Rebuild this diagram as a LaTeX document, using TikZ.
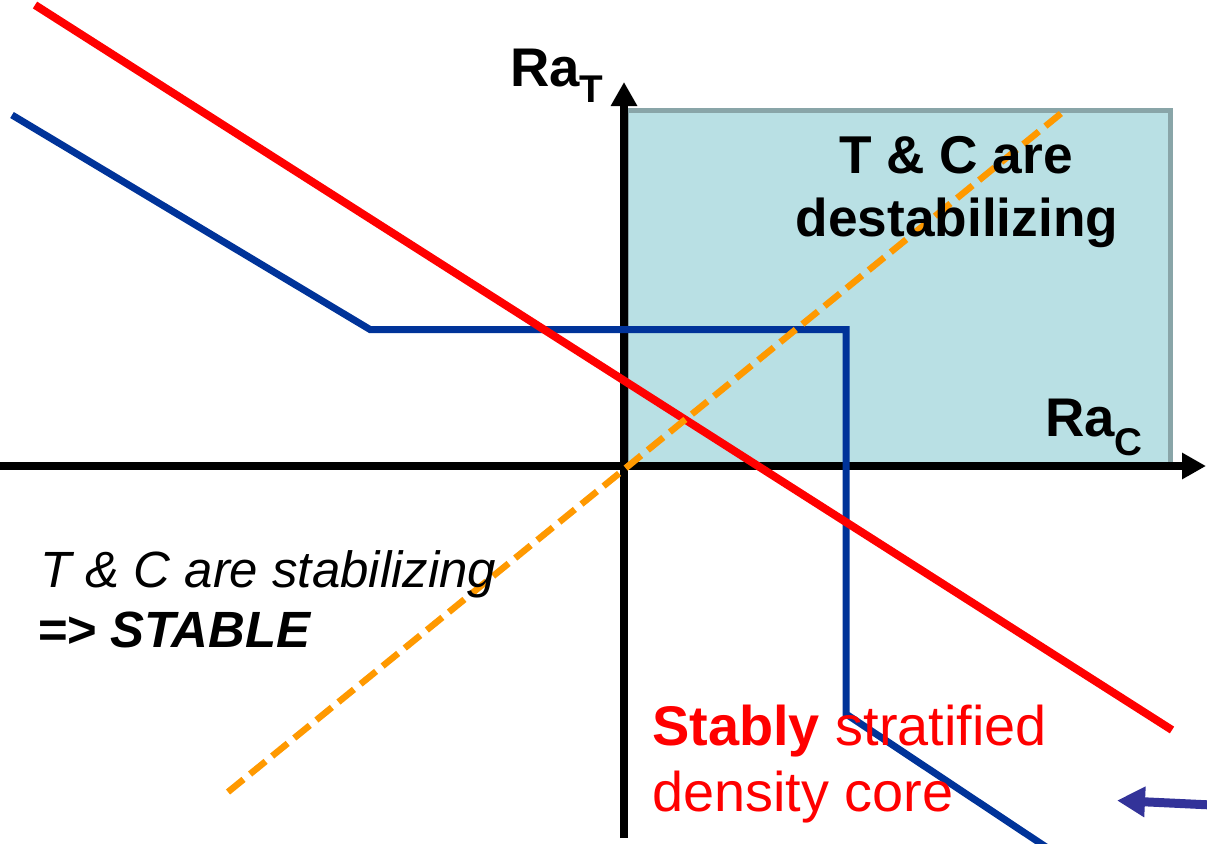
\documentclass[tikz,border=0pt]{standalone}
\usepackage{fontspec}
\setmainfont{Liberation Sans}
\usetikzlibrary{arrows.meta}
\definecolor{boxteal}{RGB}{185,224,228}
\definecolor{boxedge}{RGB}{137,165,168}
\definecolor{lineblue}{RGB}{0,51,153}
\definecolor{arrowblue}{RGB}{51,51,153}
\definecolor{dashorange}{RGB}{255,153,0}
\definecolor{linered}{RGB}{255,0,0}

\begin{document}
\begin{tikzpicture}[x=0.02cm,y=-0.02cm,line cap=butt,
  axis/.style={line width=0.15cm,-{Triangle[length=0.48cm,width=0.5cm]}},
  lbl/.style={inner sep=0pt,anchor=base west},
  ralbl/.style={lbl,font=\fontsize{31}{37}\selectfont\bfseries},
  txt/.style={lbl,font=\fontsize{29}{35}\selectfont}]
  \useasboundingbox (0,0) rectangle (1207,843);
  % origin and axis ends (pixel grid of the slide, y downwards)
  \coordinate (O) at (624,466);
  \coordinate (xL) at (0,466);
  \coordinate (xR) at (1206,466);
  \coordinate (yB) at (624,838);
  \coordinate (yT) at (624,82);
  % quadrant where both fields destabilize
  \filldraw[fill=boxteal,draw=boxedge,line width=0.11cm] (626,110.5) rectangle (1170.5,466);
  \draw[axis] (xL) -- (xR);
  \draw[axis] (yB) -- (yT);
  % stability boundaries
  \draw[lineblue,line width=0.14cm,line join=miter]
    (12,115) -- (370,329.5) -- (846,329.5) -- (846,714) -- (1046,847);
  \draw[linered,line width=0.16cm] (35,5) -- (1172,730);
  \draw[dashorange,line width=0.13cm,dash pattern=on 0.4cm off 0.17cm] (228,792) -- (1064,111);
  % pointer from the right edge
  \coordinate (pt) at (1117,800.5);
  \draw[arrowblue,line width=0.18cm,-{Triangle[length=0.56cm,width=0.58cm]}] (1212,805) -- (pt);
  % axis labels
  \node[ralbl] (raT) at (510,86) {Ra\raisebox{-9.5pt}{\fontsize{22}{22}\selectfont T}};
  \node[ralbl] (raC) at (1045,436) {Ra\raisebox{-11pt}{\fontsize{22}{22}\selectfont C}};
  % region texts
  \foreach \n/\x/\y/\t in {d1/956/173/{T \& C are},d2/957/236/destabilizing}{
    \node[txt,anchor=base,font=\fontsize{30.3}{36}\selectfont\bfseries] (\n) at (\x,\y) {\t};
  }
  \node[txt] (s1) at (40,587) {\itshape T \& C are stabilizing};
  \node[txt] (s2) at (37,647) {\bfseries\itshape =\kern-0.5pt> STABLE};
  \node[txt,text=linered,font=\fontsize{31.8}{38}\selectfont] (c1) at (652,745) {\textbf{Stably} stratified};
  \node[txt,text=linered,font=\fontsize{31.8}{38}\selectfont] (c2) at (652,811) {density core};
\end{tikzpicture}
\end{document}
